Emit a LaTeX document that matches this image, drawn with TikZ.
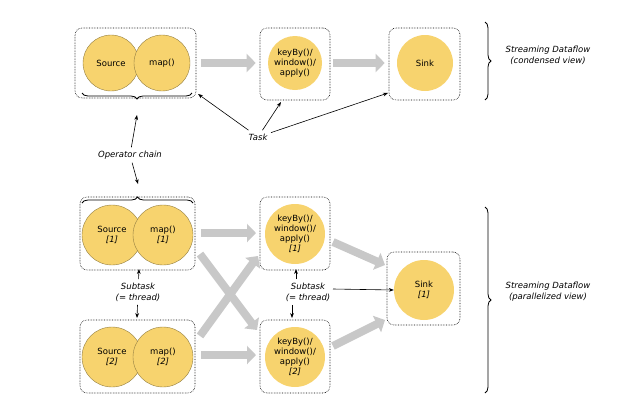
\documentclass[tikz,border=0pt]{standalone}
\usepackage{fontspec}
\setmainfont{DejaVu Sans}
\usetikzlibrary{arrows.meta,decorations.pathreplacing,calc}
\definecolor{op}{HTML}{F7D36E}
\definecolor{flow}{HTML}{C8C8C8}
\begin{document}
\begin{tikzpicture}[x=1pt,y=-1pt,
  box/.style={draw,densely dotted,rounded corners=7pt,line width=0.6pt},
  op/.style={circle,fill=op,draw=op!60!black,line width=0.4pt,minimum size=#1,inner sep=0pt,align=center,font=\fontsize{8.5}{10}\selectfont},
  op/.default=56pt,
  sop/.style={circle,fill=op,minimum size=#1,inner sep=0pt,align=center,font=\fontsize{8.5}{10}\selectfont},
  sop/.default=56pt,
  flow/.style={-{Triangle[length=9pt,width=18pt]},draw=flow,line width=8pt},
  lbl/.style={font=\itshape\fontsize{8.5}{11}\selectfont,align=center},
  ptr/.style={-{Stealth[length=5pt]},line width=0.6pt},
  br/.style={decorate,decoration={brace,amplitude=6pt},line width=0.8pt}]
\useasboundingbox (0,0) rectangle (640,416);
% top row
\node[box,minimum width=121pt,minimum height=70pt] (b1) at (135.5,63) {};
\node[op] (src) at (111,63) {Source};
\node[op] (map) at (162,63) {map()};
\node[box,minimum width=70pt,minimum height=72pt] (b2) at (295,64) {};
\node[sop=54pt] (kb) at (295,63) {keyBy()/\\window()/\\apply()};
\node[box,minimum width=71pt,minimum height=72pt] (b3) at (424.5,64) {};
\node[sop] (sink) at (425,63) {Sink};
\draw[flow] ($(b1.east)+(5,0)$) -- ($(b2.west)+(-4,-1)$);
\draw[flow] ($(b2.east)+(3,-1)$) -- ($(b3.west)+(-4,-1)$);
\draw[br] (192,93) coordinate (brA) -- (82,93) coordinate (brB);
\draw[br] (485,22) coordinate (brC) -- (485,100) coordinate (brD);
\node[lbl] (cv) at (548,55) {Streaming Dataflow\\(condensed view)};
\node[lbl] (task) at (258,137) {Task};
\draw[ptr] (task) -- (198,94);
\draw[ptr] (task) -- (281,102);
\draw[ptr] (task) -- (388,93);
\node[lbl] (oc) at (130,155) {Operator chain};
\draw[ptr] (oc) -- (137,115);
\draw[ptr] (oc) -- (138,184);
% bottom rows
\node[box,minimum width=115pt,minimum height=73pt] (b4) at (137.5,233.5) {};
\node[op=60pt] (s1) at (112,235) {Source\\{\itshape[1]}};
\node[op=60pt] (m1) at (163,235) {map()\\{\itshape[1]}};
\node[box,minimum width=115pt,minimum height=73pt] (b5) at (137.5,356.5) {};
\node[op=60pt] (s2) at (112,357) {Source\\{\itshape[2]}};
\node[op=60pt] (m2) at (163,357) {map()\\{\itshape[2]}};
\draw[br] (82,203) coordinate (brE) -- (193,203) coordinate (brF);
\node[box,minimum width=70pt,minimum height=73pt] (b6) at (295,233.5) {};
\node[sop=60pt] (k1) at (295,234) {keyBy()/\\window()/\\apply()\\{\itshape[1]}};
\node[box,minimum width=70pt,minimum height=73pt] (b7) at (295,356.5) {};
\node[sop=60pt] (k2) at (295,357) {keyBy()/\\window()/\\apply()\\{\itshape[2]}};
\node[box,minimum width=73pt,minimum height=73pt] (b8) at (423.5,288.5) {};
\node[sop=60pt] (sk) at (424,290) {Sink\\{\itshape[1]}};
\draw[flow] (201,233) coordinate (g1) -- (256,233) coordinate (g2);
\draw[flow] (201,355) coordinate (g3) -- (256,355) coordinate (g4);
\draw[flow] (200,254) coordinate (g5) -- (257,330) coordinate (g6);
\draw[flow] (200,336) coordinate (g7) -- (258,256) coordinate (g8);
\draw[flow] (333,242) coordinate (g9) -- (385,265) coordinate (g10);
\draw[flow] (333,346) coordinate (g11) -- (385,320) coordinate (g12);
\draw[br] (485,207) coordinate (brG) -- (485,393) coordinate (brH);
\node[lbl] (pv) at (548,292) {Streaming Dataflow\\(parallelized view)};
\node[lbl] (st1) at (138,292) {Subtask\\(= thread)};
\draw[ptr] (st1) -- (139,269);
\draw[ptr] (st1) -- (137,318);
\node[lbl] (st2) at (308,292) {Subtask\\(= thread)};
\draw[ptr] ($(st2.north)+(-12,0)$) -- (296,269);
\draw[ptr] ($(st2.south)+(-16,0)$) -- (292,318);
\draw[ptr] (333,289) -- (sk.west);
\end{tikzpicture}
\end{document}
